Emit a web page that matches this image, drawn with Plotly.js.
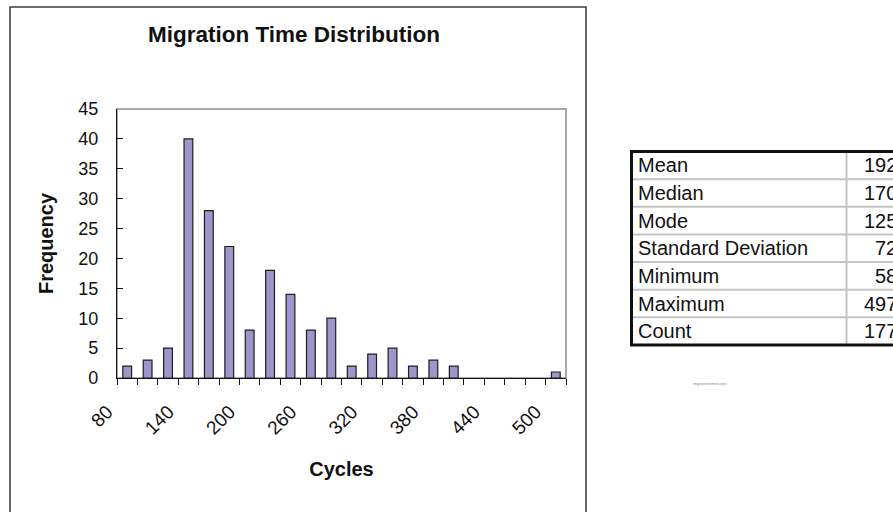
<!DOCTYPE html>
<html><head><meta charset="utf-8">
<script src="https://cdn.plot.ly/plotly-3.0.1.min.js"></script>
<style>html,body{margin:0;padding:0;background:#fff;}#chart{width:893px;height:512px;}</style>
</head><body><div id="chart"></div>
<script>
// ---- data ----
const cycles = [80,100,120,140,160,180,200,220,240,260,280,300,320,340,360,380,400,420,440,460,480,500];
const frequency = [2,3,5,40,28,22,8,18,14,8,10,2,4,5,2,3,2,0,0,0,0,1];
const labeledCycles = [80,140,200,260,320,380,440,500];
const statNames = ['Mean','Median','Mode','Standard Deviation','Minimum','Maximum','Count'];
const statValues = [192,170,125,72,58,497,177];
const fileNote = 'migrationtimes.eps';

// ---- layout helpers (pixel -> paper) ----
const W = 893, H = 512;
const L = 117, R = 566, T = 109, B = 378;
const px = p => (p - L) / (R - L);
const py = p => (B - p) / (B - T);
const F = 'Liberation Sans, Arial, Helvetica, sans-serif';

const cats = cycles.map(String);
const tickText = cycles.map(c => labeledCycles.includes(c) ? String(c) : '');

const trace = {
  type: 'bar', x: cats, y: frequency,
  marker: {color: '#9c96ca', line: {color: '#1e1e1e', width: frequency.map(v => v > 0 ? 1.2 : 0)}},
  hoverinfo: 'x+y'
};

const shapes = [
  // outer chart frame
  {type:'rect', xref:'paper', yref:'paper', x0:px(10), x1:px(586), y0:py(530), y1:py(7),
   line:{color:'#3a3a3a', width:1.5}, fillcolor:'rgba(0,0,0,0)', layer:'below'},
  // plot area frame (grey)
  {type:'rect', xref:'paper', yref:'paper', x0:0, x1:1, y0:0, y1:1,
   line:{color:'#a8a8a8', width:2}, fillcolor:'rgba(0,0,0,0)', layer:'below'}
];
const annotations = [];

// ---- statistics table ----
const tL = 631.5, tT = 151.5, tB = 345, tR = 905, colX = 846.5;
const rowH = (tB - tT) / statNames.length;
for (let i = 1; i < statNames.length; i++) {
  shapes.push({type:'line', xref:'paper', yref:'paper', x0:px(tL), x1:px(tR), y0:py(tT + i*rowH), y1:py(tT + i*rowH),
    line:{color:'#c4c4c4', width:2}});
}
shapes.push({type:'line', xref:'paper', yref:'paper', x0:px(colX), x1:px(colX), y0:py(tT), y1:py(tB),
  line:{color:'#c4c4c4', width:2}});
shapes.push({type:'rect', xref:'paper', yref:'paper', x0:px(tL), x1:px(tR), y0:py(tB), y1:py(tT),
  line:{color:'#111', width:3}, fillcolor:'rgba(0,0,0,0)'});
statNames.forEach((n, i) => {
  const yc = py(tT + (i + 0.5) * rowH);
  annotations.push({xref:'paper', yref:'paper', x:px(636), y:yc, xanchor:'left', yanchor:'middle',
    text:n, showarrow:false, font:{family:F, size:20, color:'#111'}});
  annotations.push({xref:'paper', yref:'paper', x:px(899), y:yc, xanchor:'right', yanchor:'middle',
    text:String(statValues[i]), showarrow:false, font:{family:F, size:20, color:'#111'}});
});
annotations.push({xref:'paper', yref:'paper', x:px(710), y:py(383), xanchor:'center', yanchor:'middle',
  text:fileNote, showarrow:false, font:{family:F, size:4, color:'#888'}});

const layout = {
  width: W, height: H,
  margin: {l: L, r: W - R, t: T, b: H - B, pad: 0},
  paper_bgcolor: '#fff', plot_bgcolor: '#fff',
  showlegend: false, bargap: 0.57,
  font: {family: F, color: '#111'},
  title: {text: 'Migration Time Distribution', x: 294 / W, xanchor: 'center', y: 1 - 34 / H, yanchor: 'middle',
          font: {family: F, size: 22.5, color: '#111', weight: 'bold'}},
  xaxis: {
    type: 'category', range: [-0.5, cycles.length - 0.5],
    tickmode: 'array', tickvals: cats, ticktext: tickText, tickson: 'boundaries',
    ticks: 'outside', ticklen: 6, tickwidth: 1, tickcolor: '#111',
    showline: true, linecolor: '#111', linewidth: 1.2, showgrid: false, zeroline: false,
    tickangle: -45, ticklabelshift: -20, ticklabelstandoff: 14,
    tickfont: {family: F, size: 19, color: '#111'},
    title: {text: 'Cycles', standoff: 24, font: {family: F, size: 20, color: '#111', weight: 'bold'}},
    automargin: false, fixedrange: true
  },
  yaxis: {
    range: [0, 45], dtick: 5, tick0: 0,
    ticks: 'inside', ticklen: 6, tickwidth: 1, tickcolor: '#111',
    showline: true, linecolor: '#111', linewidth: 1.2, showgrid: false, zeroline: false,
    ticklabelstandoff: 14,
    tickfont: {family: F, size: 18, color: '#111'},
    title: {text: 'Frequency', standoff: 19, font: {family: F, size: 20, color: '#111', weight: 'bold'}},
    automargin: false, fixedrange: true
  },
  shapes: shapes, annotations: annotations
};

Plotly.newPlot('chart', [trace], layout, {displayModeBar: false, staticPlot: true});
</script>
</body></html>
